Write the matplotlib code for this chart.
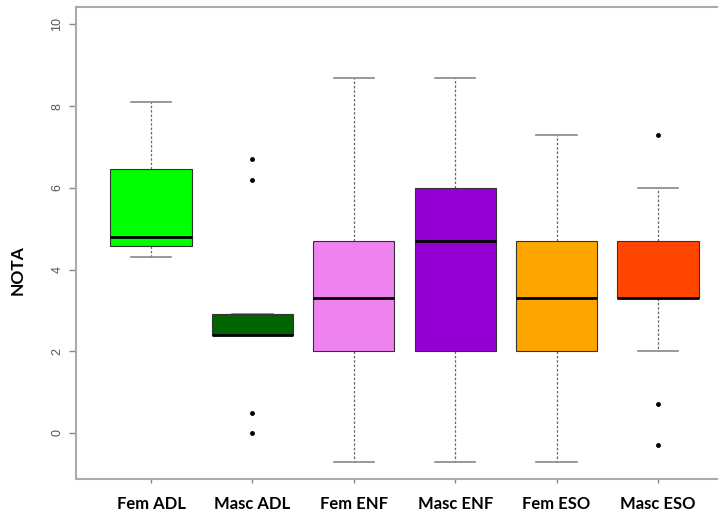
import matplotlib
matplotlib.use("Agg")
import matplotlib.pyplot as plt

categories = ["Fem ADL", "Masc ADL", "Fem ENF", "Masc ENF", "Fem ESO", "Masc ESO"]
whisker_low = [4.3, 2.4, -0.7, -0.7, -0.7, 2.0]
q1 = [4.57, 2.4, 2.0, 2.0, 2.0, 3.3]
median = [4.8, 2.4, 3.3, 4.7, 3.3, 3.3]
q3 = [6.45, 2.9, 4.7, 6.0, 4.7, 4.7]
whisker_high = [8.1, 2.9, 8.7, 8.7, 7.3, 6.0]
outliers = [[], [6.7, 6.2, 0.5, 0.0], [], [], [], [7.3, 0.7, -0.3]]
colors = ["#00FF00", "#006400", "#EE82EE", "#9400D3", "#FFA500", "#FF4500"]
yticks = [0, 2, 4, 6, 8, 10]

fig = plt.figure(figsize=(7.18, 5.17), dpi=100)
ax = fig.add_axes([76/718, 1-479/517, (733-76)/718, (479-7)/517])

stats = []
for i, lab in enumerate(categories):
    stats.append(dict(label=lab, whislo=whisker_low[i], q1=q1[i], med=median[i],
                      q3=q3[i], whishi=whisker_high[i], fliers=outliers[i]))

positions = list(range(1, len(categories) + 1))
bp = ax.bxp(stats, positions=positions, widths=0.8, patch_artist=True,
            showfliers=True,
            boxprops=dict(edgecolor="#333333", linewidth=0.8),
            medianprops=dict(color="black", linewidth=2.0),
            whiskerprops=dict(color="#666666", linestyle=(0, (2, 1.5)), linewidth=0.9),
            capprops=dict(color="#888888", linewidth=1.2),
            flierprops=dict(marker="o", markersize=2.5, markerfacecolor="black",
                            markeredgecolor="black", linestyle="none"))
for patch, c in zip(bp["boxes"], colors):
    patch.set_facecolor(c)
    patch.set_zorder(3)
for m in bp["medians"]:
    m.set_zorder(4)

ax.set_xlim(0.26, 6.74)
ax.set_ylim(-1.128, 10.428)
ax.set_yticks(yticks)
ax.set_yticklabels([str(v) for v in yticks], rotation=90, va="center",
                   fontsize=9, color="#555555", family="Liberation Sans")
ax.set_xticks(positions)
ax.set_xticklabels(categories, fontsize=12, fontweight="bold", family="Lato", color="black")
ax.tick_params(axis="y", length=5, color="#888888", width=1, pad=4)
ax.tick_params(axis="x", length=3, color="#888888", width=1, pad=9)
for s in ax.spines.values():
    s.set_color("#aaaaaa")
    s.set_linewidth(1.5)
ax.spines["right"].set_visible(False)

fig.text(18/718, 1-270/517, "NOTA", rotation=90, ha="center", va="center",
         fontsize=12.5, fontweight="bold", family="Lato")

fig.savefig("out.png", dpi=100)
